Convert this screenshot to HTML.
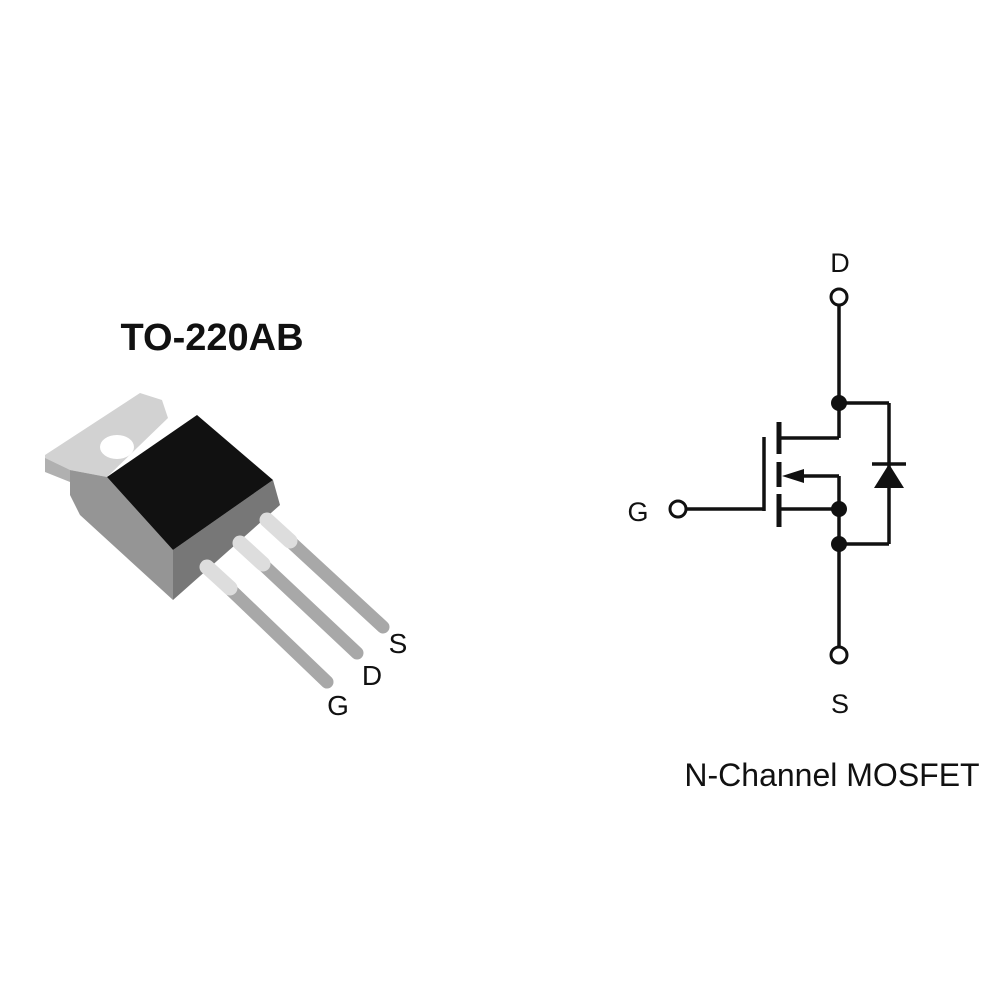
<!DOCTYPE html>
<html><head><style>html,body{margin:0;padding:0;background:#fff;}svg{display:block}</style></head>
<body>
<svg width="1000" height="1000" viewBox="0 0 1000 1000" xmlns="http://www.w3.org/2000/svg" font-family="Liberation Sans, Arial, sans-serif">
<rect width="1000" height="1000" fill="#fff"/>
<text x="212" y="350" font-size="38" font-weight="bold" text-anchor="middle" fill="#111">TO-220AB</text>
<!-- package -->
<polygon points="45,455 140,393 162,400 168,418 107,477 70,470 45,470" fill="#d2d2d2"/>
<polygon points="45,458 70,470 70,482 45,472" fill="#b0b0b0"/>
<ellipse cx="117" cy="447" rx="17" ry="12" fill="#fff"/>
<polygon points="70,470 107,477 173,550 173,600 80,515 70,495" fill="#959595"/>
<polygon points="273,480 280,505 173,600 173,550" fill="#777"/>
<polygon points="107,477 197,415 273,480 173,550" fill="#111"/>
<g stroke-linecap="round">
<line x1="267" y1="520" x2="383" y2="627" stroke="#a8a8a8" stroke-width="13"/>
<line x1="240" y1="543" x2="357" y2="653" stroke="#a8a8a8" stroke-width="13"/>
<line x1="207" y1="567" x2="327" y2="682" stroke="#a8a8a8" stroke-width="13"/>
<line x1="267" y1="520" x2="290" y2="541" stroke="#ddd" stroke-width="15"/>
<line x1="240" y1="543" x2="263" y2="564" stroke="#ddd" stroke-width="15"/>
<line x1="207" y1="567" x2="230" y2="588" stroke="#ddd" stroke-width="15"/>
</g>
<g font-size="28" fill="#111" text-anchor="middle">
<text x="398" y="653">S</text>
<text x="372" y="685">D</text>
<text x="338" y="715">G</text>
</g>
<!-- schematic -->
<g stroke="#111" stroke-width="3.5" fill="none">
<line x1="839" y1="305" x2="839" y2="438"/>
<line x1="839" y1="403" x2="889" y2="403"/>
<line x1="889" y1="403" x2="889" y2="544"/>
<line x1="839" y1="544" x2="889" y2="544"/>
<line x1="839" y1="476" x2="839" y2="647"/>
<line x1="779" y1="438" x2="839" y2="438"/>
<line x1="790" y1="476" x2="839" y2="476"/>
<line x1="779" y1="509" x2="839" y2="509"/>
<line x1="686" y1="509" x2="764" y2="509"/>
<line x1="764" y1="437" x2="764" y2="511"/>
<line x1="872" y1="464" x2="906" y2="464"/>
</g>
<g stroke="#111" stroke-width="5">
<line x1="779" y1="422" x2="779" y2="454"/>
<line x1="779" y1="462" x2="779" y2="487"/>
<line x1="779" y1="494" x2="779" y2="527"/>
</g>
<polygon points="782,476 804,469 804,483" fill="#111"/>
<polygon points="889,464 874,488 904,488" fill="#111"/>
<g fill="#111">
<circle cx="839" cy="403" r="8"/>
<circle cx="839" cy="509" r="8"/>
<circle cx="839" cy="544" r="8"/>
</g>
<g fill="#fff" stroke="#111" stroke-width="3">
<circle cx="839" cy="297" r="8"/>
<circle cx="839" cy="655" r="8"/>
<circle cx="678" cy="509" r="8"/>
</g>
<g font-size="27" fill="#111" text-anchor="middle">
<text x="840" y="272">D</text>
<text x="840" y="713">S</text>
<text x="638" y="521">G</text>
</g>
<text x="832" y="786" font-size="32" text-anchor="middle" fill="#111">N-Channel MOSFET</text>
</svg>
</body></html>
